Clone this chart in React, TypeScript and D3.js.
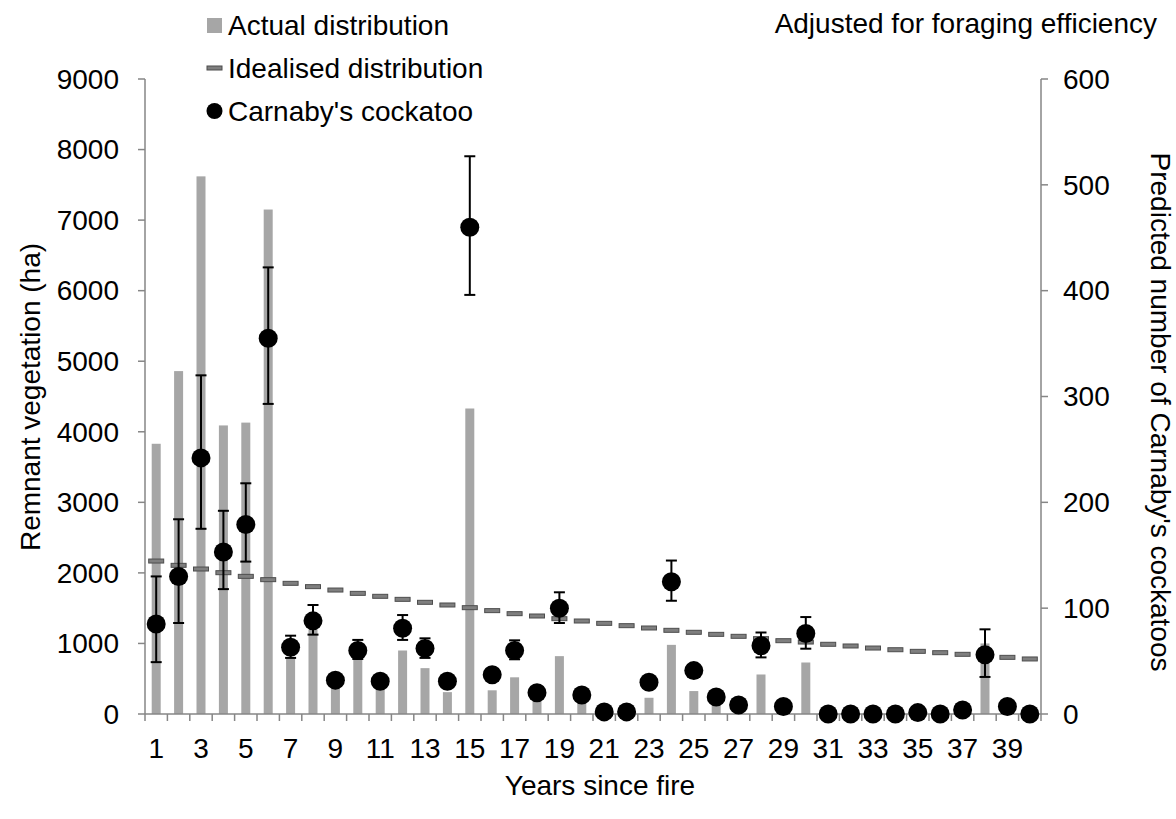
import React from "react";
import * as d3 from "d3";

const years = [1,2,3,4,5,6,7,8,9,10,11,12,13,14,15,16,17,18,19,20,21,22,23,24,25,26,27,28,29,30,31,32,33,34,35,36,37,38,39,40];
const actual = [3830,4860,7620,4090,4130,7150,800,1200,420,800,400,900,650,310,4330,336,520,200,820,170,0,0,230,980,325,150,0,560,0,730,0,0,0,0,0,0,0,1000,0,0];
const idealised = [2168,2107,2055,2003,1951,1904,1852,1805,1757,1710,1668,1625,1583,1545,1507,1465,1422,1389,1351,1318,1285,1252,1219,1186,1158,1129,1101,1068,1039,1020,988,964,935,911,888,869,846,822,803,780];
const cockatoo = [85,130,242,153,179,355,63,88,32,60,31,81,62,31,460,37,60,20,100,18,2,2,30,125,41,16,8.5,64.5,7,76,0,0,0,0,1.3,0,3.8,56,7,0];
const errUpper: (number | null)[] = [130,184,320,192,218,422,74,103,null,70,null,93.5,71.5,null,527,null,69.6,null,115,null,null,null,null,145,null,null,null,77,null,91.6,null,null,null,null,null,null,null,80,null,null];
const errLower: (number | null)[] = [49,86,175,118,144,293,53,75,null,52,null,70,53,null,396,null,51.7,null,86,null,null,null,null,107,null,null,null,53.5,null,61.7,null,null,null,null,null,null,null,35,null,null];
const leftTicks = [0,1000,2000,3000,4000,5000,6000,7000,8000,9000];
const rightTicks = [0,100,200,300,400,500,600];
const xTickLabels = [1,3,5,7,9,11,13,15,17,19,21,23,25,27,29,31,33,35,37,39];

const W = 1176, H = 819;
const plotL = 145, plotR = 1041, plotT = 79, plotB = 714;
const FONT = "'Liberation Sans', Arial, sans-serif";
const FS = 28;
const AXIS = "#868686";
const BAR = "#a6a6a6";

export default function App() {
  const x = d3.scaleBand<number>().domain(years).range([plotL, plotR]).paddingInner(0).paddingOuter(0);
  const yL = d3.scaleLinear().domain([0, 9000]).range([plotB, plotT]);
  const yR = d3.scaleLinear().domain([0, 600]).range([plotB, plotT]);
  const bw = x.bandwidth();
  const cx = (d: number) => (x(d) as number) + bw / 2;
  const barW = 9;

  return (
    <svg width={W} height={H} style={{ position: "absolute", left: 0, top: 0, background: "#fff" }} fontFamily={FONT}>
      <rect x={0} y={0} width={W} height={H} fill="#fff" />
      {years.map((d, i) => (
        actual[i] > 0 ? <rect key={"b" + d} x={cx(d) - barW / 2} y={yL(actual[i])} width={barW} height={plotB - yL(actual[i])} fill={BAR} /> : null
      ))}
      <line x1={plotL} x2={plotL} y1={plotT} y2={plotB} stroke={AXIS} strokeWidth={1.5} />
      {leftTicks.map(t => (
        <g key={"lt" + t}>
          <line x1={plotL - 7} x2={plotL} y1={yL(t)} y2={yL(t)} stroke={AXIS} strokeWidth={1.5} />
          <text x={119} y={yL(t)} dy="0.35em" textAnchor="end" fontSize={FS} fill="#000">{t}</text>
        </g>
      ))}
      <line x1={plotR} x2={plotR} y1={plotT} y2={plotB} stroke={AXIS} strokeWidth={1.5} />
      {rightTicks.map(t => (
        <g key={"rt" + t}>
          <line x1={plotR} x2={plotR + 7} y1={yR(t)} y2={yR(t)} stroke={AXIS} strokeWidth={1.5} />
          <text x={1063} y={yR(t)} dy="0.35em" textAnchor="start" fontSize={FS} fill="#000">{t}</text>
        </g>
      ))}
      <line x1={plotL} x2={plotR} y1={plotB} y2={plotB} stroke={AXIS} strokeWidth={1.5} />
      {years.concat([41]).map((d, i) => {
        const xx = plotL + i * bw;
        return <line key={"xt" + i} x1={xx} x2={xx} y1={plotB} y2={plotB + 7} stroke={AXIS} strokeWidth={1.5} />;
      })}
      {xTickLabels.map(d => (
        <text key={"xl" + d} x={cx(d)} y={758} textAnchor="middle" fontSize={FS} fill="#000">{d}</text>
      ))}
      {years.map((d, i) => (
        <rect key={"id" + d} x={cx(d) - 7.5} y={yL(idealised[i]) - 2} width={15} height={4} fill="#7f7f7f" stroke="#4d4d4d" strokeWidth={1} />
      ))}
      {years.map((d, i) => {
        const u = errUpper[i], l = errLower[i];
        if (u == null || l == null) return null;
        const xx = cx(d);
        return (
          <g key={"e" + d} stroke="#000" strokeWidth={2}>
            <line x1={xx} x2={xx} y1={yR(u)} y2={yR(l)} />
            <line x1={xx - 5.5} x2={xx + 5.5} y1={yR(u)} y2={yR(u)} />
            <line x1={xx - 5.5} x2={xx + 5.5} y1={yR(l)} y2={yR(l)} />
          </g>
        );
      })}
      {years.map((d, i) => (
        <circle key={"c" + d} cx={cx(d)} cy={yR(cockatoo[i])} r={9.5} fill="#000" />
      ))}
      <text transform={`translate(40,397) rotate(-90)`} textAnchor="middle" fontSize={FS} fill="#000">Remnant vegetation (ha)</text>
      <text transform={`translate(1151,412) rotate(90)`} textAnchor="middle" fontSize={FS} fill="#000">Predicted number of Carnaby's cockatoos</text>
      <text x={(plotL + plotR) / 2 + 7} y={795} textAnchor="middle" fontSize={FS} fill="#000">Years since fire</text>
      <text x={1157} y={33} textAnchor="end" fontSize={FS} fill="#000">Adjusted for foraging efficiency</text>
      <rect x={207} y={18} width={15} height={15} fill={BAR} />
      <text x={228} y={35} fontSize={FS} fill="#000">Actual distribution</text>
      <rect x={207} y={66} width={15} height={4} fill="#7f7f7f" stroke="#4d4d4d" strokeWidth={1} />
      <text x={228} y={78} fontSize={FS} fill="#000">Idealised distribution</text>
      <circle cx={214.5} cy={111} r={8} fill="#000" />
      <text x={228} y={121} fontSize={FS} fill="#000">Carnaby's cockatoo</text>
    </svg>
  );
}
